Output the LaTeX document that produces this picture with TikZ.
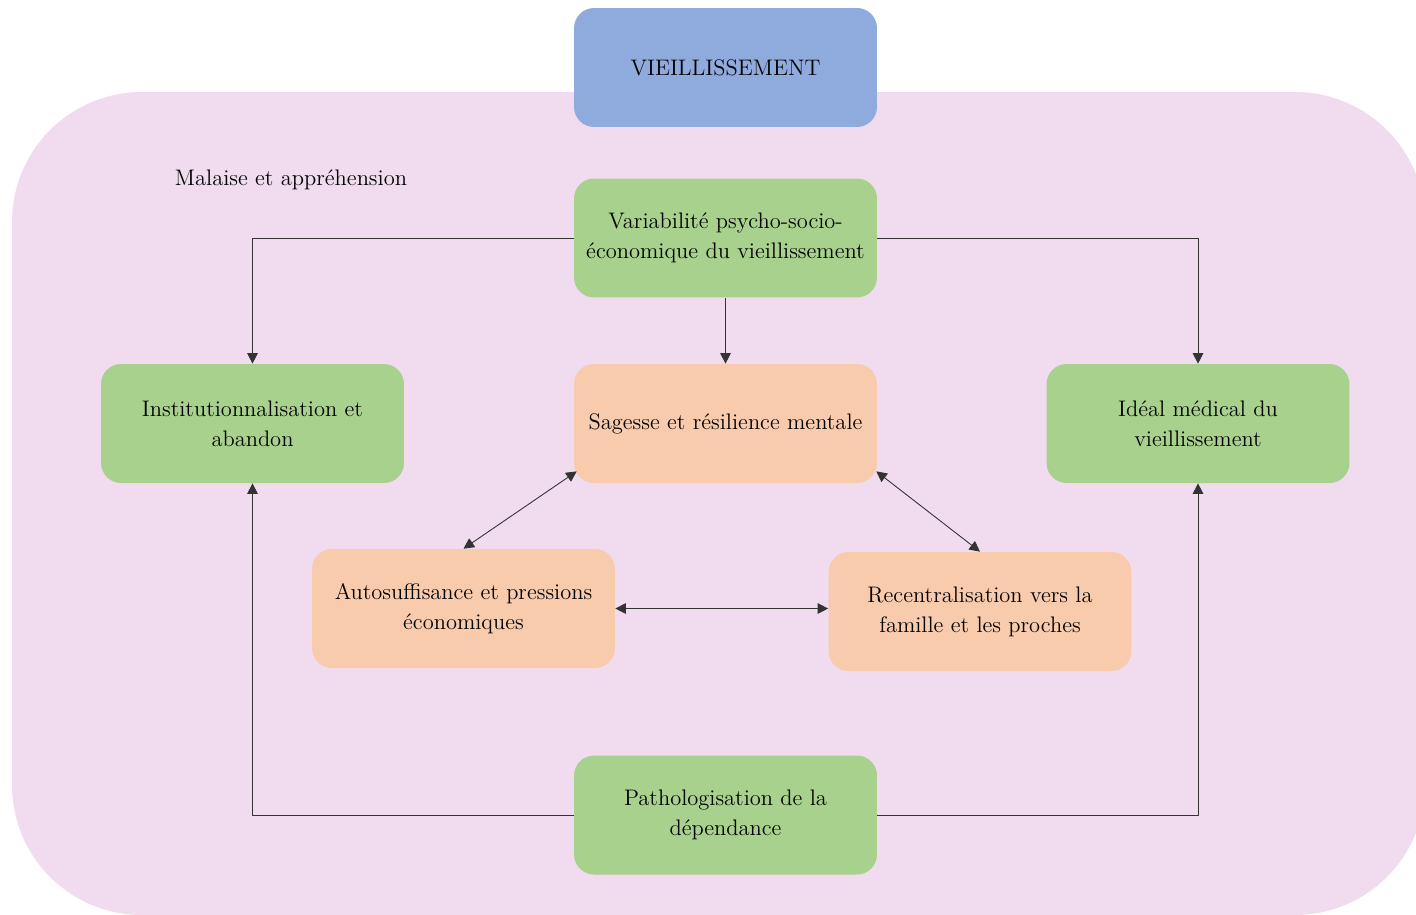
\documentclass[tikz,border=0pt]{standalone}
\usetikzlibrary{arrows.meta,calc}
\definecolor{fondrose}{HTML}{F0DCEE}
\definecolor{bleuvieil}{HTML}{8FAADC}
\definecolor{vertboite}{HTML}{A9D18E}
\definecolor{orangeboite}{HTML}{F8CBAD}
\definecolor{trait}{HTML}{333333}
\begin{document}
\begin{tikzpicture}[x=0.02cm,y=-0.02cm,>={Triangle[length=6pt,width=6pt]},
		font=\fontsize{12.8}{17}\selectfont, line join=round,
		boite/.style={rounded corners=0.4cm, minimum width=6.06cm, minimum height=2.38cm, align=center, inner sep=2pt},
		boiteverte/.style={boite, fill=vertboite},
		boiteorange/.style={boite, fill=orangeboite},
		fleche/.style={->, draw=trait, line width=0.5pt},
		double fleche/.style={<->, draw=trait, line width=0.5pt}]
	\useasboundingbox (0,0) rectangle (1416,914);
	% fond rose
	\begin{scope}
		\clip (0,0) rectangle (1416,914);
		\fill[fondrose, rounded corners=2.6cm] (12,92) rectangle (1425,915);
	\end{scope}
	\node[boite, fill=bleuvieil] (vieil) at (725.5,67.5) {VIEILLISSEMENT};
	\node (malaise) at (291,180) {Malaise et appréhension};
	\node[boiteverte] (var) at (725.5,238) {Variabilité psycho-socio-\\économique du vieillissement};
	\node[boiteverte] (inst) at (252.5,423.5) {Institutionnalisation et\\abandon};
	\node[boiteorange] (sag) at (725.5,423.5) {Sagesse et résilience mentale};
	\node[boiteverte] (ideal) at (1198,423.5) {Idéal médical du\\vieillissement};
	\node[boiteorange] (auto) at (463.5,608.5) {Autosuffisance et pressions\\économiques};
	\node[boiteorange] (recen) at (980,611.5) {Recentralisation vers la\\famille et les proches};
	\node[boiteverte] (patho) at (725.5,815) {Pathologisation de la\\dépendance};
	% liaisons
	\draw[fleche] (var.west) -| (inst.north);
	\draw[fleche] (var.east) -| (ideal.north);
	\draw[fleche] (var.south) -- (sag.north);
	\draw[double fleche] ($(sag.south west)+(3,-12)$) -- (auto.north);
	\draw[double fleche] ($(sag.south east)+(-1,-12)$) -- (recen.north);
	\draw[double fleche] (auto.east) -- (auto.east -| recen.west);
	\draw[fleche] (patho.west) -| (inst.south);
	\draw[fleche] (patho.east) -| (ideal.south);
\end{tikzpicture}
\end{document}
